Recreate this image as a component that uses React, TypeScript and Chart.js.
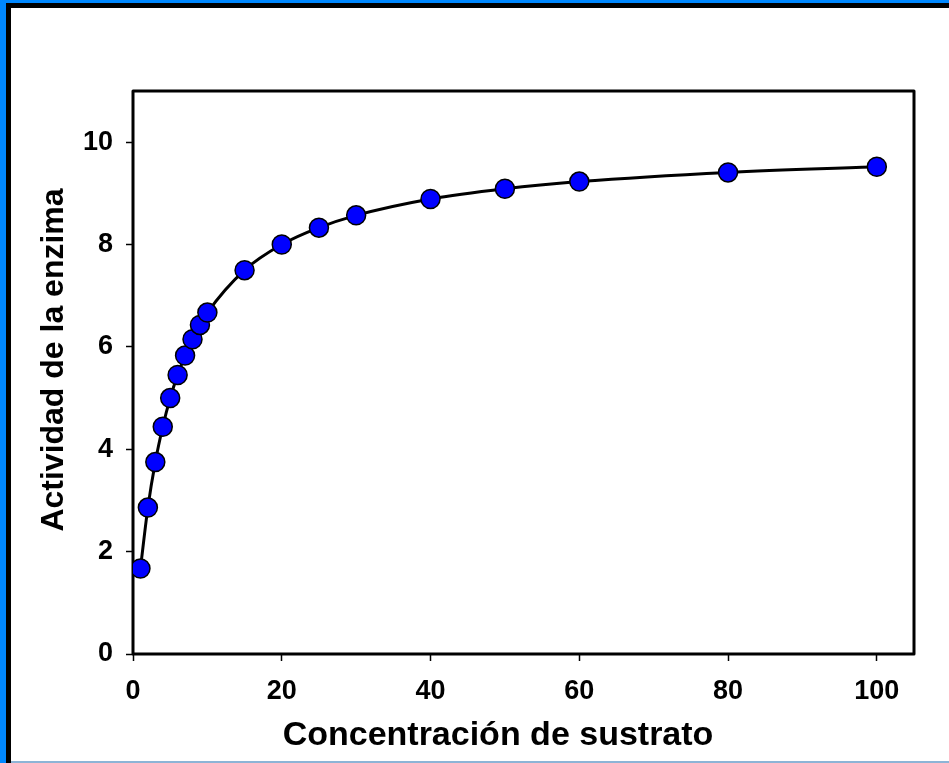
import React, { useEffect, useRef } from "react";
import { Chart, registerables } from "chart.js";

Chart.register(...registerables);

const SUBSTRATE = [1, 2, 3, 4, 5, 6, 7, 8, 9, 10, 15, 20, 25, 30, 40, 50, 60, 80, 100];
const ACTIVITY = [1.67, 2.86, 3.75, 4.44, 5.0, 5.45, 5.83, 6.15, 6.43, 6.67, 7.5, 8.0, 8.33, 8.57, 8.89, 9.09, 9.23, 9.41, 9.52];
const X_TICKS = [0, 20, 40, 60, 80, 100];
const Y_TICKS = [0, 2, 4, 6, 8, 10];
const X_TITLE = "Concentración de sustrato";
const Y_TITLE = "Actividad de la enzima";

const FONT = "'Liberation Sans', Arial, Helvetica, sans-serif";

const boxPlugin = {
  id: "plotBox",
  beforeDatasetsDraw(chart: any) {
    const { ctx, chartArea } = chart;
    ctx.save();
    ctx.strokeStyle = "#000";
    ctx.lineWidth = 3;
    ctx.lineJoin = "round";
    ctx.strokeRect(chartArea.left, chartArea.top, chartArea.right - chartArea.left, chartArea.bottom - chartArea.top);
    ctx.restore();
  },
  afterDraw(chart: any) {
    const { ctx, chartArea } = chart;
    ctx.save();
    ctx.fillStyle = "#000";
    ctx.textAlign = "center";
    ctx.textBaseline = "alphabetic";
    ctx.font = `bold 34px ${FONT}`;
    ctx.fillText(X_TITLE, chartArea.left + 365, chartArea.bottom + 91);
    ctx.translate(63, chartArea.top + 269);
    ctx.rotate(-Math.PI / 2);
    ctx.font = `bold 32px ${FONT}`;
    ctx.fillText(Y_TITLE, 0, 0);
    ctx.restore();
  },
};

export default function App() {
  const ref = useRef<HTMLCanvasElement>(null);

  useEffect(() => {
    if (!ref.current) return;
    const points = SUBSTRATE.map((x, i) => ({ x, y: ACTIVITY[i] }));
    const chart = new Chart(ref.current, {
      type: "scatter",
      data: {
        datasets: [
          {
            data: points,
            showLine: true,
            borderColor: "#000",
            borderWidth: 3,
            cubicInterpolationMode: "monotone",
            pointRadius: 9.5,
            pointBackgroundColor: "#0000FF",
            pointBorderColor: "#000",
            pointBorderWidth: 1.5,
          } as any,
        ],
      },
      options: {
        responsive: false,
        animation: false,
        devicePixelRatio: 1,
        layout: { padding: { top: 91, right: 35, left: 0, bottom: 0 } },
        plugins: { legend: { display: false }, tooltip: { enabled: false } },
        scales: {
          x: {
            type: "linear",
            min: 0,
            max: 105,
            afterBuildTicks: (s: any) => {
              s.ticks = X_TICKS.map((v) => ({ value: v }));
            },
            afterFit: (s: any) => {
              s.height = 109;
            },
            grid: { display: true, drawOnChartArea: false, drawTicks: true, tickLength: 7, tickColor: "#000", tickWidth: 1.5 },
            border: { display: false },
            ticks: { color: "#000", padding: 14, font: { family: FONT, size: 27, weight: "bold" }, maxRotation: 0 },
            title: { display: false },
          },
          y: {
            type: "linear",
            min: 0,
            max: 11,
            afterBuildTicks: (s: any) => {
              s.ticks = Y_TICKS.map((v) => ({ value: v }));
            },
            afterFit: (s: any) => {
              s.width = 133;
            },
            grid: { display: true, drawOnChartArea: false, drawTicks: true, tickLength: 7, tickColor: "#000", tickWidth: 1.5 },
            border: { display: false },
            ticks: { color: "#000", padding: 13, font: { family: FONT, size: 27, weight: "bold" } },
            title: { display: false },
          },
        },
      },
      plugins: [boxPlugin],
    });
    return () => chart.destroy();
  }, []);

  return (
    <div style={{ position: "fixed", left: 0, top: 0, width: 949, height: 763, background: "#fff", overflow: "hidden" }}>
      <canvas ref={ref} width={949} height={763} style={{ position: "absolute", left: 0, top: 0, width: 949, height: 763 }} />
      <div style={{ position: "absolute", left: 0, top: 0, width: 949, height: 3, background: "#0088FF" }} />
      <div style={{ position: "absolute", left: 0, top: 0, width: 6, height: 763, background: "#0088FF" }} />
      <div style={{ position: "absolute", left: 6, top: 3, width: 943, height: 5, background: "#000" }} />
      <div style={{ position: "absolute", left: 6, top: 3, width: 5, height: 760, background: "#000" }} />
      <div style={{ position: "absolute", left: 11, top: 761, width: 938, height: 2, background: "#8DB4D6" }} />
    </div>
  );
}
